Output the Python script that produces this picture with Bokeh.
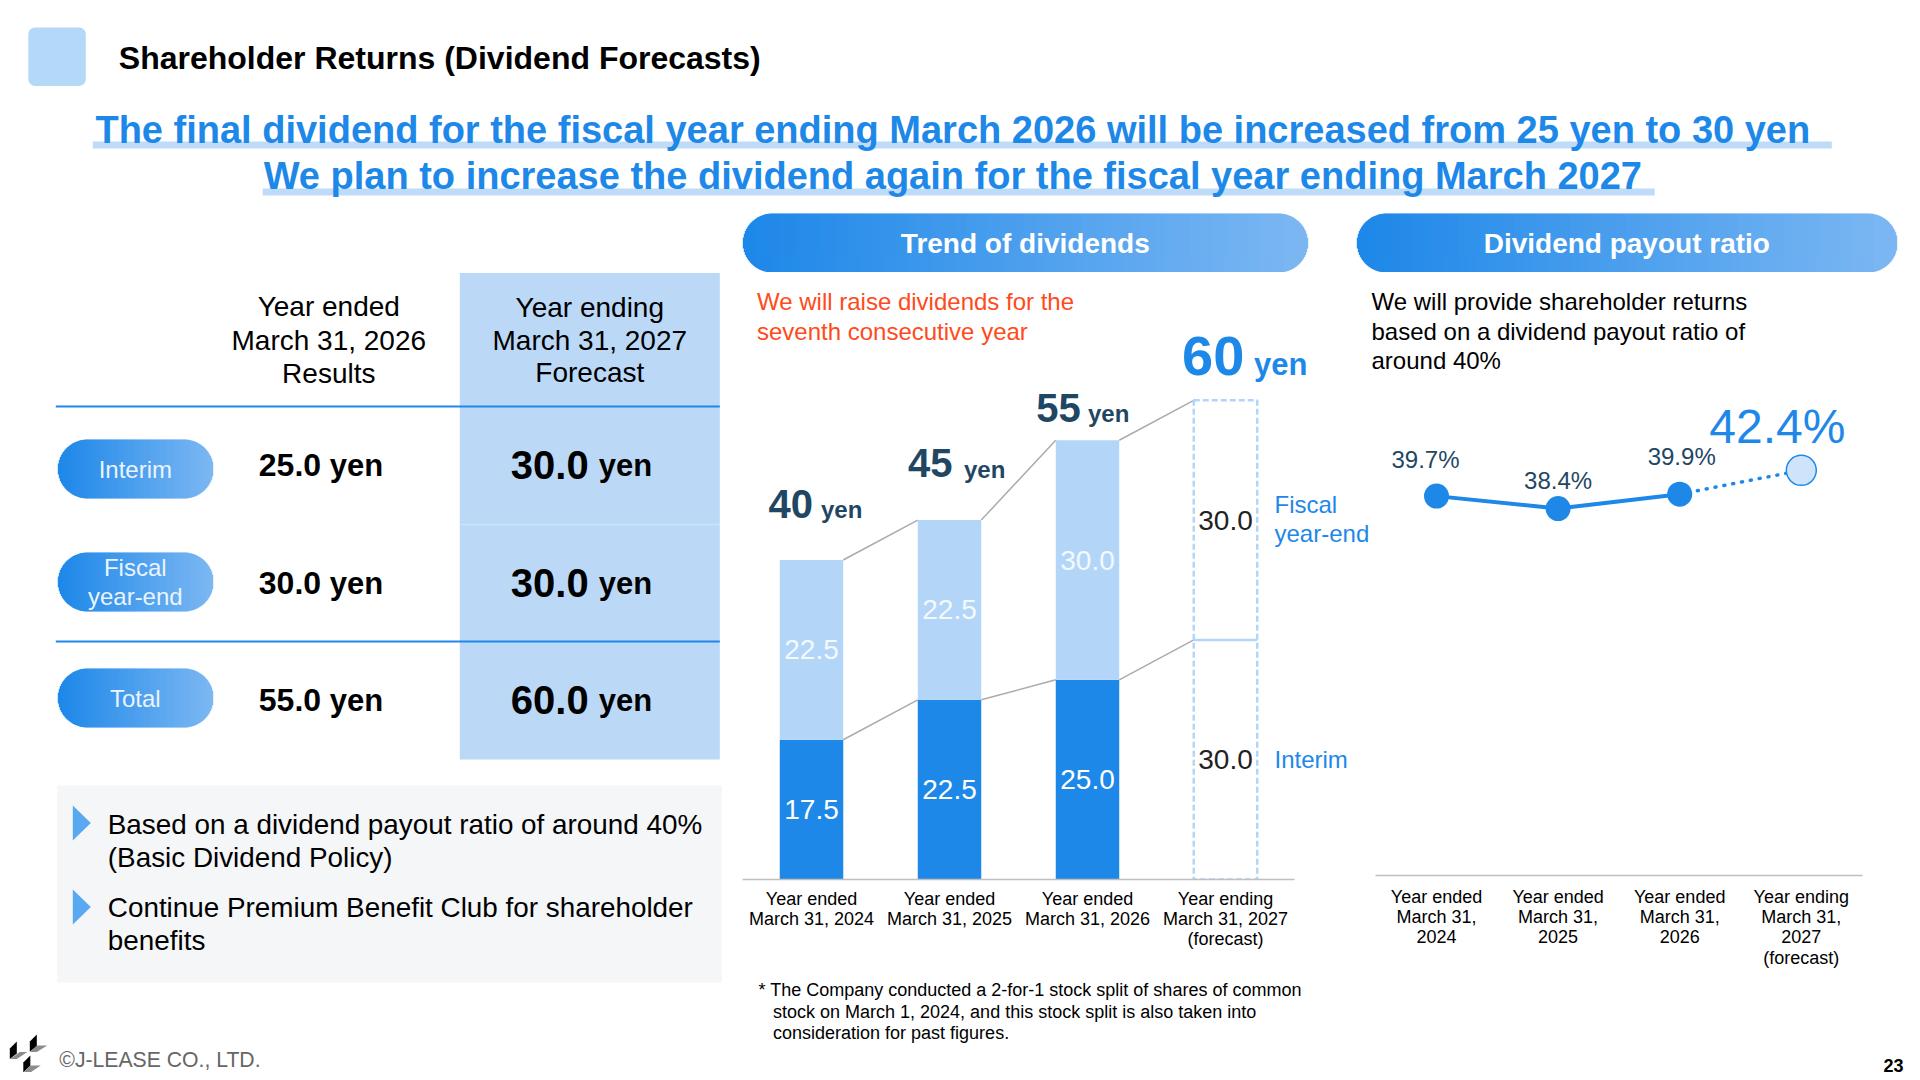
import math
from bokeh.core.properties import value
from bokeh.embed import file_html
from bokeh.layouts import column, row
from bokeh.models import ColumnDataSource, FixedTicker, Label, Range1d
from bokeh.plotting import figure
from bokeh.resources import INLINE

# ---- data ----
bar_years = ["Year ended\nMarch 31, 2024", "Year ended\nMarch 31, 2025",
             "Year ended\nMarch 31, 2026", "Year ending\nMarch 31, 2027\n(forecast)"]
interim = [17.5, 22.5, 25.0, 30.0]
fiscal_year_end = [22.5, 22.5, 30.0, 30.0]
totals = [40, 45, 55, 60]

payout_years = ["Year ended\nMarch 31,\n2024", "Year ended\nMarch 31,\n2025",
                "Year ended\nMarch 31,\n2026", "Year ending\nMarch 31,\n2027\n(forecast)"]
payout_ratio = [39.7, 38.4, 39.9, 42.4]

table_rows = ["Interim", "Fiscal\nyear-end", "Total"]
table_results = ["25.0", "30.0", "55.0"]
table_forecast = ["30.0", "30.0", "60.0"]

# ---- style ----
FONT = "Liberation Sans"
BLUE = "#1E88E9"
LIGHT = "#B3D6F8"
COL = "#BBD9F7"
NAVY = "#1F4764"
RED = "#FF4A1A"
GRAD_A = (30, 136, 233)
GRAD_B = (125, 184, 243)


def base(w, h, **kw):
    p = figure(width=w, height=h, output_backend="svg", toolbar_location=None, frame_align=False, **kw)
    p.outline_line_color = None
    p.background_fill_color = "white"
    p.border_fill_color = "white"
    p.grid.visible = False
    return p


def decor(x0, x1, y0, y1, sx=0.0):
    return base(x1 - x0, y1 - y0, x_range=Range1d(x0 + sx, x1 + sx), y_range=Range1d(y1, y0),
                min_border=0, x_axis_type=None, y_axis_type=None)


def pill(p, x0, x1, y0, y1):
    r = (y1 - y0) / 2
    cy = (y0 + y1) / 2
    n = int(round(x1 - x0))
    ls, rs, ts, bs, cs = [], [], [], [], []
    for i in range(n):
        xa = x0 + i
        xm = xa + 0.5
        d = min(xm - x0, x1 - xm)
        dy = r if d >= r else math.sqrt(max(r * r - (r - d) ** 2, 0))
        t = i / max(n - 1, 1)
        c = tuple(int(GRAD_A[k] + (GRAD_B[k] - GRAD_A[k]) * t) for k in range(3))
        ls.append(xa)
        rs.append(xa + 1.4)
        ts.append(cy - dy)
        bs.append(cy + dy)
        cs.append("#%02x%02x%02x" % c)
    p.quad(left=ls, right=rs, top=ts, bottom=bs, fill_color=cs, line_color=None)


def rounded(p, x0, x1, y0, y1, r, color):
    xs, ys = [], []
    corners = [(x1 - r, y0 + r, -90), (x1 - r, y1 - r, 0), (x0 + r, y1 - r, 90), (x0 + r, y0 + r, 180)]
    for cx, cy, a0 in corners:
        for k in range(9):
            a = math.radians(a0 + k * 90 / 8)
            xs.append(cx + r * math.cos(a))
            ys.append(cy + r * math.sin(a))
    p.patch(xs, ys, fill_color=color, line_color=None)


def dlabel(p, x, y, text, size, color="black", bold=False, align="left"):
    p.add_layout(Label(x=x, y=y, text=text, text_font=FONT, text_font_size=f"{size}px",
                       text_color=color, text_font_style="bold" if bold else "normal",
                       text_align=align, text_baseline="middle"))


def slabel(p, fx, fb, x, y, text, size, color="black", bold=False, align="left"):
    p.add_layout(Label(x=x - fx, y=fb - y, x_units="screen", y_units="screen", text=text,
                       text_font=FONT, text_font_size=f"{size}px", text_color=color,
                       text_font_style="bold" if bold else "normal",
                       text_align=align, text_baseline="middle"))


def style_axis(ax, labels, standoff):
    ax.ticker = FixedTicker(ticks=list(range(len(labels))))
    ax.major_label_overrides = {i: t for i, t in enumerate(labels)}
    ax.bounds = (-0.5, len(labels) - 0.5)
    ax.major_tick_line_color = None
    ax.minor_tick_line_color = None
    ax.axis_line_color = "#BFBFBF"
    ax.axis_line_width = 1.5
    ax.major_label_text_font = FONT
    ax.major_label_text_font_size = "18px"
    ax.major_label_text_color = "black"
    ax.major_label_text_line_height = 1.02
    ax.major_label_standoff = standoff
    ax.major_label_orientation = "horizontal"


# ---- header band ----
top = decor(0, 1912, 0, 272, 0.7)
rounded(top, 28.5, 86, 27, 85.5, 7, "#B3D8F8")
dlabel(top, 119, 57, "Shareholder Returns (Dividend Forecasts)", 32, bold=True)
top.quad(left=[93, 263], right=[1832, 1655], top=[141, 188], bottom=[148, 195],
         fill_color="#BEDCF8", line_color=None)
dlabel(top, 953, 129, "The final dividend for the fiscal year ending March 2026 will be increased from 25 yen to 30 yen",
       38, BLUE, True, "center")
dlabel(top, 953, 175, "We plan to increase the dividend again for the fiscal year ending March 2027",
       38, BLUE, True, "center")
pill(top, 743, 1308, 213, 272)
pill(top, 1357, 1897.5, 213, 272)
dlabel(top, 1025.5, 243, "Trend of dividends", 28, "white", True, "center")
dlabel(top, 1627, 243, "Dividend payout ratio", 28, "white", True, "center")

# ---- table panel ----
left = decor(0, 742, 272, 1072, 0.7)
left.quad(left=[460], right=[720], top=[272.5], bottom=[759], fill_color=COL, line_color=None)
left.segment(x0=[460], x1=[720], y0=[524], y1=[524], line_color="#CDE3F9", line_width=1.5)
left.segment(x0=[56, 56], x1=[720, 720], y0=[406, 641], y1=[406, 641], line_color=BLUE, line_width=2)

for i, (a, b, c) in enumerate(zip(["Year ended", "March 31, 2026", "Results"],
                                  ["Year ending", "March 31, 2027", "Forecast"],
                                  [(306, 307), (339.5, 339.5), (372.5, 372)])):
    dlabel(left, 329, c[0], a, 28, align="center")
    dlabel(left, 590, c[1], b, 28, align="center")

row_y = [464, 582, 699]
pill_y = [(439, 498), (552, 611), (668, 727)]
for name, res, fc, y, (ya, yb) in zip(table_rows, table_results, table_forecast, row_y, pill_y):
    pill(left, 58, 213.5, ya, yb)
    parts = name.split("\n")
    if len(parts) == 1:
        dlabel(left, 135.5, (ya + yb) / 2, name, 24, "#EAF4FE", align="center")
    else:
        dlabel(left, 135.5, (ya + yb) / 2 - 14.5, parts[0], 24, "#EAF4FE", align="center")
        dlabel(left, 135.5, (ya + yb) / 2 + 14.5, parts[1], 24, "#EAF4FE", align="center")
    dlabel(left, 259, y, res, 32, bold=True)
    dlabel(left, 330, y + 1, "yen", 31, bold=True)
    dlabel(left, 511, y, fc, 40, bold=True)
    dlabel(left, 599, y + 1, "yen", 31, bold=True)

left.quad(left=[57.5], right=[722], top=[785], bottom=[982], fill_color="#F4F6F8", line_color=None)
left.patches(xs=[[73, 91, 73], [73, 91, 73]], ys=[[805, 822.5, 840], [889, 906.5, 924]],
             fill_color="#58A8F2", line_color=None)
for y, t in zip([824, 857, 907, 940],
                ["Based on a dividend payout ratio of around 40%", "(Basic Dividend Policy)",
                 "Continue Premium Benefit Club for shareholder", "benefits"]):
    dlabel(left, 108, y, t, 27.85)

# footer logo
left.patches(xs=[[10, 17, 17, 10], [30, 37, 37, 30], [23.5, 30.5, 30.5, 23.5]],
             ys=[[1048, 1041, 1053, 1058.5], [1041, 1034, 1046, 1051], [1062, 1055, 1065, 1072]],
             fill_color="black", line_color=None)
left.patches(xs=[[10.5, 20, 27.5, 17], [30, 37, 47.5, 37], [24, 30.5, 41, 30.5]],
             ys=[[1058.5, 1051.5, 1051.5, 1058.5], [1051.5, 1045, 1045, 1051.5], [1072, 1065, 1065, 1072]],
             fill_color="#8C8C8C", line_color=None)
dlabel(left, 59.5, 1059, "©J-LEASE CO., LTD.", 21.2, "#666666")

# ---- bar chart panel ----
bar_x = list(range(len(bar_years)))
bar_tops = [a + b for a, b in zip(interim, fiscal_year_end)]
BAR_W = 0.46
bar = base(628, 706, x_range=Range1d(-0.5, -0.5 + 628 / 138), y_range=Range1d(0, 76),
           min_border_left=0, min_border_right=0, min_border_top=0, min_border_bottom=99,
           y_axis_type=None)
fx, fb = 743, 880.3

src = dict(x=bar_x, interim=interim, stack=bar_tops,
           mid_i=[v / 2 for v in interim],
           mid_f=[a + b / 2 for a, b in zip(interim, fiscal_year_end)],
           t_i=[f"{v:.1f}" for v in interim],
           t_f=[f"{v:.1f}" for v in fiscal_year_end],
           total=[str(v) for v in totals])
act = ColumnDataSource({k: v[:3] for k, v in src.items()})
fc_src = ColumnDataSource({k: v[3:] for k, v in src.items()})

conn_x0 = [x + BAR_W / 2 for x in bar_x[:3]]
conn_x1 = [x - BAR_W / 2 for x in bar_x[1:]]
bar.segment(x0=conn_x0, x1=conn_x1, y0=bar_tops[:3], y1=bar_tops[1:], line_color="#ABABAB", line_width=1.5)
bar.segment(x0=conn_x0, x1=conn_x1, y0=interim[:3], y1=interim[1:], line_color="#ABABAB", line_width=1.5)

bar.vbar(x="x", top="interim", width=BAR_W, source=act, fill_color=BLUE, line_color=None)
bar.vbar(x="x", bottom="interim", top="stack", width=BAR_W, source=act, fill_color=LIGHT, line_color=None)
fc_box = bar.vbar(x="x", top="stack", width=BAR_W, source=fc_src, fill_color=None, line_color=LIGHT,
                  line_width=2.5)
fc_box.glyph.line_dash = [6, 3]
bar.segment(x0=[bar_x[3] - BAR_W / 2], x1=[bar_x[3] + BAR_W / 2], y0=[interim[3]], y1=[interim[3]],
            line_color=LIGHT, line_width=2.5)

for s, y, t, c in ((act, "mid_i", "t_i", "white"), (act, "mid_f", "t_f", "#F4F9FE"),
                   (fc_src, "mid_i", "t_i", "#222222"), (fc_src, "mid_f", "t_f", "#222222")):
    bar.text(x="x", y=y, text=t, source=s, text_font=value(FONT), text_font_size=value("28px"),
             text_color=c, text_align="center", text_baseline="middle")

tot_num_dx = [-43, -41.5, -51.2, -43.5]
tot_yen_dx = [9.5, 14.5, 0.5, 28.5]
tot_dy = [-41.9, -42.4, -17.7, -24.3]
BASE_FIX = 0.36
for i in bar_x:
    col = BLUE if i == 3 else NAVY
    ns, ys_ = (56, 31) if i == 3 else (40, 24)
    bar.text(x=[i], y=[bar_tops[i]], text=[str(totals[i])], x_offset=tot_num_dx[i],
             y_offset=tot_dy[i] - BASE_FIX * ns, text_font=value(FONT), text_font_size=f"{ns}px",
             text_font_style="bold", text_color=col, text_baseline="alphabetic")
    bar.text(x=[i], y=[bar_tops[i]], text=["yen"], x_offset=tot_yen_dx[i],
             y_offset=tot_dy[i] - BASE_FIX * ys_, text_font=value(FONT), text_font_size=f"{ys_}px",
             text_font_style="bold", text_color=col, text_baseline="alphabetic")

style_axis(bar.xaxis[0], bar_years, 3)

slabel(bar, fx, fb, 757.5, 302.5, "We will raise dividends for the", 24, RED)
slabel(bar, fx, fb, 757.5, 332, "seventh consecutive year", 24, RED)
slabel(bar, fx, fb, 1275, 505, "Fiscal", 24, BLUE)
slabel(bar, fx, fb, 1275, 534.5, "year-end", 24, BLUE)
slabel(bar, fx, fb, 1275, 760, "Interim", 24, BLUE)

note = decor(742, 1370, 978, 1072)
dlabel(note, 758, 989.5, "* The Company conducted a 2-for-1 stock split of shares of common", 18)
dlabel(note, 772.5, 1011, "stock on March 1, 2024, and this stock split is also taken into", 18)
dlabel(note, 772.5, 1032, "consideration for past figures.", 18)

# ---- payout panel ----
line_x = list(range(len(payout_years)))
line = base(542, 713, x_range=Range1d(-66 / 121.6, (542 - 66) / 121.6), y_range=Range1d(0, 63.1),
            min_border_left=0, min_border_right=0, min_border_top=0, min_border_bottom=110,
            y_axis_type=None)
lfx, lfb = 1371, 876.3

line.line(x=line_x[:3], y=payout_ratio[:3], line_color=BLUE, line_width=4)
line.line(x=line_x[2:], y=payout_ratio[2:], line_color=BLUE, line_width=3.5,
          line_dash=[1, 8], line_cap="round")
line.scatter(x=line_x[:3], y=payout_ratio[:3], size=25, fill_color=BLUE, line_color=None)
line.scatter(x=line_x[3:], y=payout_ratio[3:], size=30, fill_color="#CFE4FA", line_color=BLUE, line_width=1.5)

pct_dx = [-11, 0, 2, -24]
pct_dy = [-37, -28.4, -37.7, -44]
for i, v in enumerate(payout_ratio):
    line.text(x=[i], y=[v], text=[f"{v}%"], x_offset=pct_dx[i], y_offset=pct_dy[i],
              text_font=value(FONT), text_font_size="48px" if i == 3 else "24px",
              text_color=BLUE if i == 3 else NAVY, text_align="center", text_baseline="middle")

style_axis(line.xaxis[0], payout_years, 5)

for y, t in zip([302.5, 332, 361], ["We will provide shareholder returns",
                                    "based on a dividend payout ratio of", "around 40%"]):
    slabel(line, lfx, lfb, 1372, y, t, 24)

foot = decor(1370, 1912, 985, 1072)
dlabel(foot, 1883, 1065, "23", 18, bold=True)

page = column(top, row(left, column(bar, note), column(line, foot)))
open("out.html", "w").write(file_html(page, INLINE, title="Shareholder Returns"))
